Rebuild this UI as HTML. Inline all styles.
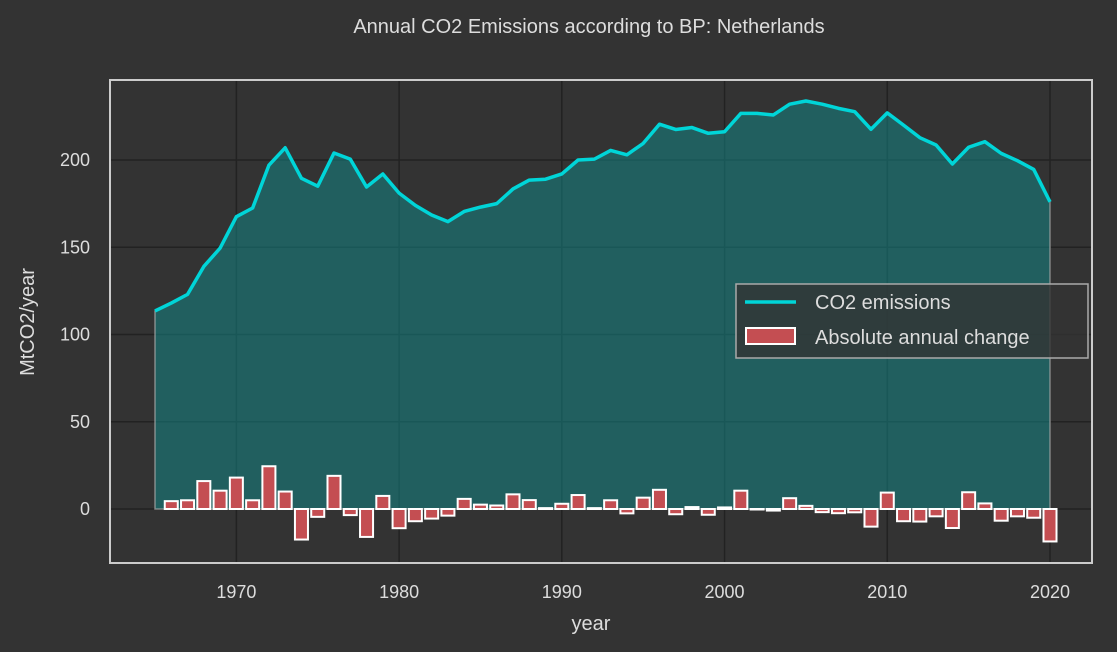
<!DOCTYPE html>
<html><head><meta charset="utf-8">
<style>
html,body{margin:0;padding:0;background:#333333;}
svg{display:block;font-family:"Liberation Sans",sans-serif;}
</style></head>
<body>
<svg id="chart" width="1117" height="652" viewBox="0 0 1117 652" xmlns="http://www.w3.org/2000/svg">
<rect x="0" y="0" width="1117" height="652" fill="#333333"/>
<text x="589" y="33" fill="#dddddd" font-size="20" text-anchor="middle">Annual CO2 Emissions according to BP: Netherlands</text>
<g id="grid"></g>
<g id="area"></g>
<g id="bars"></g>
<g id="line"></g>
<g id="axes"></g>
<text x="591" y="630" fill="#dddddd" font-size="20" text-anchor="middle">year</text>
<text x="34" y="322" fill="#dddddd" font-size="20" text-anchor="middle" transform="rotate(-90 34 322)">MtCO2/year</text>
<g>
<rect x="736" y="284" width="352" height="74" fill="#333333" fill-opacity="0.8" stroke="#aaaaaa" stroke-width="1.5"/>
<line x1="745" y1="302" x2="796" y2="302" stroke="#00d5d8" stroke-width="3.5"/>
<text x="815" y="309" fill="#dddddd" font-size="20">CO2 emissions</text>
<rect x="746" y="328" width="49" height="16" fill="#c44e52" stroke="#ffffff" stroke-width="2"/>
<text x="815" y="344" fill="#dddddd" font-size="20">Absolute annual change</text>
</g>
</svg>
<script>
const years = [];
for (let y = 1965; y <= 2020; y++) years.push(y);
const emissions = [113.5,118,123,139,149.5,167.5,172.5,197,207,189.5,185,204,200.5,184.5,192,181,174,168.5,164.7,170.5,173,175,183.4,188.5,189,192,200,200.5,205.5,203,209.5,220.5,217.5,218.6,215.3,216.2,226.7,226.7,225.8,232,233.8,232,229.6,227.7,217.6,227,220,212.8,208.6,197.7,207.3,210.5,203.8,199.6,194.6,176];
const xTicks = [1970,1980,1990,2000,2010,2020];
const yTicks = [0,50,100,150,200];

const NS = "http://www.w3.org/2000/svg";
const L = 110, R = 1092, T = 80, B = 563;
const xs = v => 155 + (v - 1965) * (1050 - 155) / 55;
const ys = v => 509 - v * (509 - 160) / 200;
function mk(tag, attrs, parent) {
  const e = document.createElementNS(NS, tag);
  for (const k in attrs) e.setAttribute(k, attrs[k]);
  parent.appendChild(e);
  return e;
}
const grid = document.getElementById('grid');
xTicks.forEach(t => {
  const l = mk('line', {x1: xs(t), x2: xs(t), y1: T, y2: B, stroke: '#222222', 'stroke-width': 1.5}, grid);
  
  
});
yTicks.forEach(t => {
  const l = mk('line', {x1: L, x2: R, y1: ys(t), y2: ys(t), stroke: '#222222', 'stroke-width': 1.5}, grid);
  
  
});
// area
const area = document.getElementById('area');
let d = 'M' + xs(years[0]) + ',' + ys(0);
years.forEach((y, i) => d += ' L' + xs(y) + ',' + ys(emissions[i]));
d += ' L' + xs(years[years.length - 1]) + ',' + ys(0) + ' Z';
const ap = mk('path', {d: d, fill: '#0f8c8c', 'fill-opacity': 0.5, stroke: '#aaaaaa', 'stroke-width': 1.5, 'stroke-opacity': 0.7}, area);


// bars
const bars = document.getElementById('bars');
const bw = (xs(1966) - xs(1965)) * 0.8;
for (let i = 1; i < years.length; i++) {
  const v = emissions[i] - emissions[i - 1];
  const y0 = ys(Math.max(v, 0)), y1 = ys(Math.min(v, 0));
  const r = mk('rect', {x: xs(years[i]) - bw / 2, y: y0, width: bw, height: Math.max(y1 - y0, 0.5), fill: '#c44e52', stroke: '#ffffff', 'stroke-width': 2}, bars);
  
  
}
// line
const line = document.getElementById('line');
const pts = years.map((y, i) => xs(y) + ',' + ys(emissions[i])).join(' ');
const pl = mk('polyline', {points: pts, fill: 'none', stroke: '#00d5d8', 'stroke-width': 3.5, 'stroke-linejoin': 'round'}, line);


// axes
const axes = document.getElementById('axes');
const fr = mk('rect', {x: L, y: T, width: R - L, height: B - T, fill: 'none', stroke: '#cccccc', 'stroke-width': 2}, axes);


xTicks.forEach(t => {
  const tx = mk('text', {x: xs(t), y: 598, fill: '#dddddd', 'font-size': 18, 'text-anchor': 'middle'}, axes);
  tx.textContent = t;
  
  
});
yTicks.forEach(t => {
  const tx = mk('text', {x: 90, y: ys(t) + 6, fill: '#dddddd', 'font-size': 18, 'text-anchor': 'end'}, axes);
  tx.textContent = t;
  
  
});
</script>
</body></html>
